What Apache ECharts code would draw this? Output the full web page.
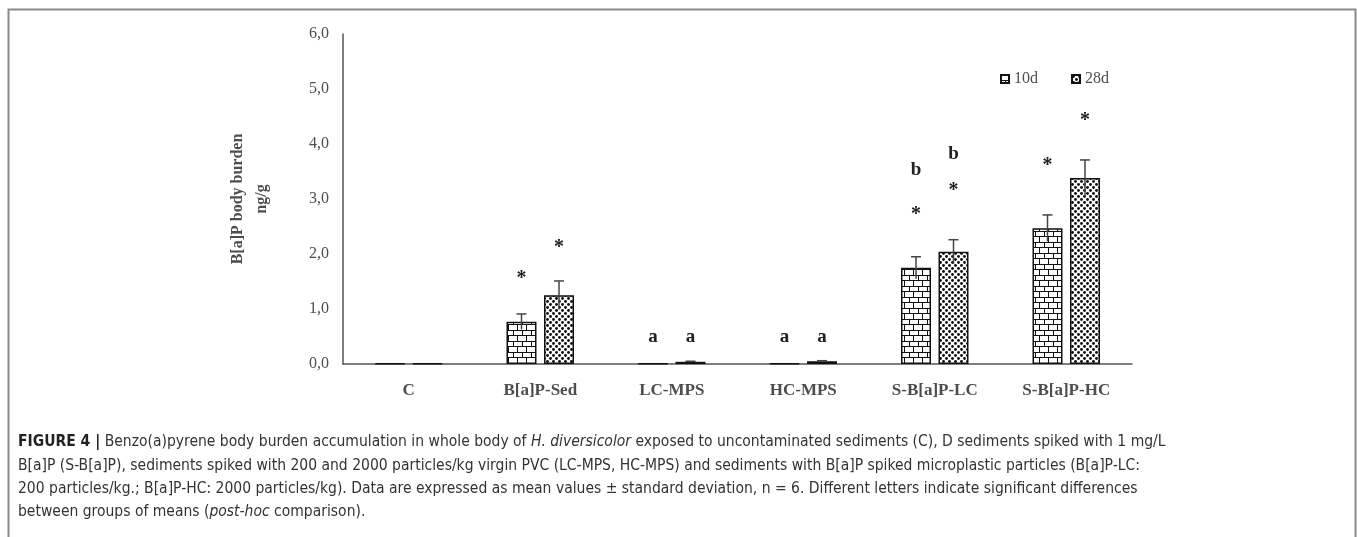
<!DOCTYPE html>
<html><head><meta charset="utf-8">
<script src="https://cdn.jsdelivr.net/npm/echarts@6/dist/echarts.min.js"></script>
<style>html,body{margin:0;padding:0;background:#fff}#c{width:1357px;height:537px}</style>
</head><body><div id="c"></div>
<script>
// ---- data ----
const categories = ['C', 'B[a]P-Sed', 'LC-MPS', 'HC-MPS', 'S-B[a]P-LC', 'S-B[a]P-HC'];
const series10d = [0.01, 0.77, 0.01, 0.01, 1.75, 2.47];
const series28d = [0.01, 1.25, 0.04, 0.05, 2.04, 3.38];
const sd10d = [0, 0.14, 0, 0, 0.20, 0.24];
const sd28d = [0, 0.26, 0.01, 0.01, 0.22, 0.33];
const star10dY = [null, 1.62, null, null, 2.78, 3.67];
const star28dY = [null, 2.18, null, null, 3.22, 4.49];
const letter10d = [null, null, 'a', 'a', 'b', null];
const letter10dY = [null, null, 0.49, 0.49, 3.53, null];
const letter28d = [null, null, 'a', 'a', 'b', null];
const letter28dY = [null, null, 0.49, 0.49, 3.82, null];
const yTicks = [0, 1, 2, 3, 4, 5, 6];
const legendNames = ['10d', '28d'];

// ---- patterns ----
function brick() {
  const c = document.createElement('canvas'); c.width = 18; c.height = 11;
  const g = c.getContext('2d');
  g.fillStyle = '#fff'; g.fillRect(0, 0, 18, 11);
  g.strokeStyle = '#111'; g.lineWidth = 1;
  g.beginPath();
  g.moveTo(0, 0.5); g.lineTo(18, 0.5);
  g.moveTo(0, 5.5); g.lineTo(18, 5.5);
  g.moveTo(0.5, 0); g.lineTo(0.5, 5.5);
  g.moveTo(9.5, 0); g.lineTo(9.5, 5.5);
  g.moveTo(4.5, 5.5); g.lineTo(4.5, 11);
  g.moveTo(13.5, 5.5); g.lineTo(13.5, 11);
  g.stroke();
  return c;
}
function dots() {
  const c = document.createElement('canvas'); c.width = 6; c.height = 6;
  const g = c.getContext('2d');
  g.fillStyle = '#fff'; g.fillRect(0, 0, 6, 6);
  g.fillStyle = '#111';
  g.beginPath(); g.arc(1.5, 1.5, 1.45, 0, Math.PI * 2); g.fill();
  g.beginPath(); g.arc(4.5, 4.5, 1.45, 0, Math.PI * 2); g.fill();
  return c;
}
const pat10 = { image: brick(), repeat: 'repeat' };
const pat28 = { image: dots(), repeat: 'repeat' };

const BAR_W = 30, GAP = 7.5, OFF = (BAR_W + GAP) / 2;
const serif = '"Liberation Serif", "Times New Roman", serif';
const txtCol = '#4d4d4d';

function errSeries(name, vals, sds, off) {
  return {
    type: 'custom', name: name, z: 5,
    data: vals.map((v, i) => [i, v, sds[i]]),
    renderItem: function (params, api) {
      const e = api.value(2);
      if (!e) return null;
      const v = api.value(1);
      const x = api.coord([api.value(0), v])[0] + off;
      const yt = api.coord([api.value(0), v + e])[1];
      const yb = api.coord([api.value(0), v - e])[1];
      const st = { stroke: '#444', lineWidth: 1.5 };
      return { type: 'group', children: [
        { type: 'line', shape: { x1: x, y1: yb, x2: x, y2: yt }, style: st },
        { type: 'line', shape: { x1: x - 5, y1: yt, x2: x + 5, y2: yt }, style: st }
      ]};
    }
  };
}
function textSeries(name, ys, texts, off, size, dy) {
  return {
    type: 'custom', name: name, z: 6,
    data: ys.map((y, i) => [i, y == null ? 0 : y]),
    renderItem: function (params, api) {
      const i = params.dataIndex;
      if (ys[i] == null) return null;
      const p = api.coord([api.value(0), api.value(1)]);
      return { type: 'text', x: p[0] + off, y: p[1] + dy,
        style: { text: texts[i], fill: '#222', font: 'bold ' + size + 'px ' + serif, align: 'center', verticalAlign: 'middle' } };
    }
  };
}

const chart = echarts.init(document.getElementById('c'), null, { renderer: 'canvas' });
const captionLines = [
  '{b|FIGURE 4 |} Benzo(a)pyrene body burden accumulation in whole body of {i|H. diversicolor} exposed to uncontaminated sediments (C), D sediments spiked with 1 mg/L',
  'B[a]P (S-B[a]P), sediments spiked with 200 and 2000 particles/kg virgin PVC (LC-MPS, HC-MPS) and sediments with B[a]P spiked microplastic particles (B[a]P-LC:',
  '200 particles/kg.; B[a]P-HC: 2000 particles/kg). Data are expressed as mean values \u00b1 standard deviation, n = 6. Different letters indicate significant differences',
  'between groups of means ({i|post-hoc} comparison).'
];
const capFont = '"DejaVu Sans Condensed", "Liberation Sans Narrow", "Liberation Sans", sans-serif';
const capSize = 15.5;
const capY = [443, 467, 490, 513];
const graphics = [{
  type: 'polyline', silent: true,
  shape: { points: [[8.5, 537], [8.5, 9.5], [1355.5, 9.5], [1355.5, 537]] },
  style: { stroke: '#8a8a8a', lineWidth: 2, fill: null }
}];
captionLines.forEach((t, k) => {
  graphics.push({
    type: 'text', left: 18, top: capY[k] - 9,
    style: {
      text: t, fill: '#333', font: capSize + 'px ' + capFont,
      rich: {
        b: { fontWeight: 'bold', fontFamily: capFont, fontSize: capSize, fill: '#222', color: '#222' },
        i: { fontStyle: 'italic', fontFamily: capFont, fontSize: capSize, fill: '#333', color: '#333' }
      }
    }
  });
});

chart.setOption({
  animation: false,
  backgroundColor: '#fff',
  grid: { left: 343, right: 225, top: 34, bottom: 173, containLabel: false },
  legend: {
    data: legendNames, left: 995, top: 66, itemWidth: 8, itemHeight: 8, itemGap: 33,
    icon: 'rect',
    textStyle: { fontFamily: serif, fontSize: 16, color: txtCol }
  },
  xAxis: {
    type: 'category', data: categories,
    axisTick: { show: false },
    axisLine: { lineStyle: { color: '#555', width: 1.5 } },
    axisLabel: { fontFamily: serif, fontSize: 17, fontWeight: 'bold', color: txtCol, margin: 18 }
  },
  yAxis: {
    type: 'value', min: 0, max: 6, interval: 1,
    name: 'B[a]P body burden\nng/g', nameLocation: 'middle', nameGap: 69, nameRotate: 90,
    nameTextStyle: { fontFamily: serif, fontSize: 16, fontWeight: 'bold', color: txtCol, lineHeight: 24 },
    axisLine: { show: true, lineStyle: { color: '#555', width: 1.5 } },
    axisTick: { show: false },
    splitLine: { show: false },
    axisLabel: { fontFamily: serif, fontSize: 16, color: txtCol, margin: 14,
      formatter: v => yTicks.indexOf(v) >= 0 ? v.toFixed(1).replace('.', ',') : '' }
  },
  series: [
    { type: 'bar', name: legendNames[0], data: series10d, barWidth: BAR_W, barGap: '25%',
      itemStyle: { color: pat10, borderColor: '#111', borderWidth: 1.5 } },
    { type: 'bar', name: legendNames[1], data: series28d, barWidth: BAR_W, barGap: '25%',
      itemStyle: { color: pat28, borderColor: '#111', borderWidth: 1.5 } },
    errSeries('sd10', series10d, sd10d, -OFF),
    errSeries('sd28', series28d, sd28d, OFF),
    textSeries('star10', star10dY, star10dY.map(v => v == null ? null : '*'), -OFF, 20, 4),
    textSeries('star28', star28dY, star28dY.map(v => v == null ? null : '*'), OFF, 20, 4),
    textSeries('let10', letter10dY, letter10d, -OFF, 19, 0),
    textSeries('let28', letter28dY, letter28d, OFF, 19, 0)
  ],
  graphic: graphics
});
</script></body></html>
